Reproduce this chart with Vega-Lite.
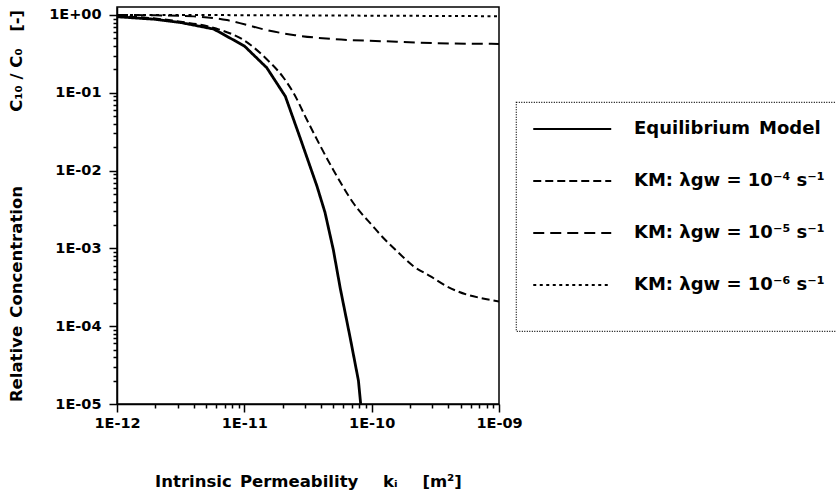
{
  "$schema": "https://vega.github.io/schema/vega-lite/v6.json",
  "width": 382,
  "height": 397,
  "autosize": {"type": "none"},
  "padding": {"left": 117, "top": 7, "right": 337, "bottom": 97},
  "background": "white",
  "config": {
    "view": {"stroke": "black", "strokeWidth": 1.5},
    "axis": {
      "domainColor": "black", "domainWidth": 1.5,
      "tickColor": "black", "tickWidth": 1.5,
      "labelFont": "DejaVu Sans", "labelFontSize": 14.5, "labelFontWeight": "bold", "labelColor": "black",
      "titleFont": "DejaVu Sans", "titleFontSize": 16.5, "titleFontWeight": "bold", "titleColor": "black",
      "grid": false, "labelOverlap": false, "labelFlush": false, "labelBound": false
    }
  },
  "data": {
    "values": [
      {"k": 1e-12, "c": 0.95, "series": "Equilibrium\u2002Model"},
      {"k": 2e-12, "c": 0.88, "series": "Equilibrium\u2002Model"},
      {"k": 3.16e-12, "c": 0.80, "series": "Equilibrium\u2002Model"},
      {"k": 5.75e-12, "c": 0.66, "series": "Equilibrium\u2002Model"},
      {"k": 1e-11, "c": 0.40, "series": "Equilibrium\u2002Model"},
      {"k": 1.5e-11, "c": 0.21, "series": "Equilibrium\u2002Model"},
      {"k": 2.1e-11, "c": 0.09, "series": "Equilibrium\u2002Model"},
      {"k": 2.75e-11, "c": 0.026, "series": "Equilibrium\u2002Model"},
      {"k": 3.72e-11, "c": 0.0063, "series": "Equilibrium\u2002Model"},
      {"k": 4.3e-11, "c": 0.0029, "series": "Equilibrium\u2002Model"},
      {"k": 5.0e-11, "c": 0.00096, "series": "Equilibrium\u2002Model"},
      {"k": 5.66e-11, "c": 0.00031, "series": "Equilibrium\u2002Model"},
      {"k": 6.78e-11, "c": 0.000071, "series": "Equilibrium\u2002Model"},
      {"k": 7.87e-11, "c": 0.00002, "series": "Equilibrium\u2002Model"},
      {"k": 8.2e-11, "c": 0.00001, "series": "Equilibrium\u2002Model"},

      {"k": 1e-12, "c": 0.97, "series": "KM: λgw = 10⁻⁴ s⁻¹"},
      {"k": 2e-12, "c": 0.90, "series": "KM: λgw = 10⁻⁴ s⁻¹"},
      {"k": 3.16e-12, "c": 0.82, "series": "KM: λgw = 10⁻⁴ s⁻¹"},
      {"k": 6e-12, "c": 0.67, "series": "KM: λgw = 10⁻⁴ s⁻¹"},
      {"k": 1e-11, "c": 0.47, "series": "KM: λgw = 10⁻⁴ s⁻¹"},
      {"k": 1.5e-11, "c": 0.27, "series": "KM: λgw = 10⁻⁴ s⁻¹"},
      {"k": 2.04e-11, "c": 0.155, "series": "KM: λgw = 10⁻⁴ s⁻¹"},
      {"k": 2.43e-11, "c": 0.10, "series": "KM: λgw = 10⁻⁴ s⁻¹"},
      {"k": 3.1e-11, "c": 0.045, "series": "KM: λgw = 10⁻⁴ s⁻¹"},
      {"k": 5.0e-11, "c": 0.0102, "series": "KM: λgw = 10⁻⁴ s⁻¹"},
      {"k": 7.2e-11, "c": 0.0038, "series": "KM: λgw = 10⁻⁴ s⁻¹"},
      {"k": 1.03e-10, "c": 0.0019, "series": "KM: λgw = 10⁻⁴ s⁻¹"},
      {"k": 1.17e-10, "c": 0.0015, "series": "KM: λgw = 10⁻⁴ s⁻¹"},
      {"k": 1.58e-10, "c": 0.00092, "series": "KM: λgw = 10⁻⁴ s⁻¹"},
      {"k": 2.13e-10, "c": 0.00059, "series": "KM: λgw = 10⁻⁴ s⁻¹"},
      {"k": 2.88e-10, "c": 0.00044, "series": "KM: λgw = 10⁻⁴ s⁻¹"},
      {"k": 3.89e-10, "c": 0.000325, "series": "KM: λgw = 10⁻⁴ s⁻¹"},
      {"k": 5.58e-10, "c": 0.000255, "series": "KM: λgw = 10⁻⁴ s⁻¹"},
      {"k": 7.11e-10, "c": 0.000231, "series": "KM: λgw = 10⁻⁴ s⁻¹"},
      {"k": 1e-9, "c": 0.000208, "series": "KM: λgw = 10⁻⁴ s⁻¹"},

      {"k": 1e-12, "c": 1.0, "series": "KM: λgw = 10⁻⁵ s⁻¹"},
      {"k": 2e-12, "c": 0.99, "series": "KM: λgw = 10⁻⁵ s⁻¹"},
      {"k": 4e-12, "c": 0.96, "series": "KM: λgw = 10⁻⁵ s⁻¹"},
      {"k": 7.3e-12, "c": 0.86, "series": "KM: λgw = 10⁻⁵ s⁻¹"},
      {"k": 1e-11, "c": 0.76, "series": "KM: λgw = 10⁻⁵ s⁻¹"},
      {"k": 1.5e-11, "c": 0.64, "series": "KM: λgw = 10⁻⁵ s⁻¹"},
      {"k": 2.5e-11, "c": 0.55, "series": "KM: λgw = 10⁻⁵ s⁻¹"},
      {"k": 5e-11, "c": 0.49, "series": "KM: λgw = 10⁻⁵ s⁻¹"},
      {"k": 1.24e-10, "c": 0.46, "series": "KM: λgw = 10⁻⁵ s⁻¹"},
      {"k": 3.05e-10, "c": 0.435, "series": "KM: λgw = 10⁻⁵ s⁻¹"},
      {"k": 1e-9, "c": 0.425, "series": "KM: λgw = 10⁻⁵ s⁻¹"},

      {"k": 1e-12, "c": 1.0, "series": "KM: λgw = 10⁻⁶ s⁻¹"},
      {"k": 1e-11, "c": 0.995, "series": "KM: λgw = 10⁻⁶ s⁻¹"},
      {"k": 1e-10, "c": 0.98, "series": "KM: λgw = 10⁻⁶ s⁻¹"},
      {"k": 1e-9, "c": 0.965, "series": "KM: λgw = 10⁻⁶ s⁻¹"}
    ]
  },
  "encoding": {
    "strokeDash": {
      "field": "series", "type": "nominal",
      "scale": {
        "domain": ["Equilibrium\u2002Model", "KM: λgw = 10⁻⁴ s⁻¹", "KM: λgw = 10⁻⁵ s⁻¹", "KM: λgw = 10⁻⁶ s⁻¹"],
        "range": [[1, 0], [8, 4], [11, 6], [3, 3.5]]
      },
      "legend": {
        "orient": "none", "legendX": 399, "legendY": 95,
        "title": " ", "titleOrient": "bottom", "titleFontSize": 8, "titlePadding": 13,
        "padding": 16,
        "strokeColor": "black",
        "symbolType": "M-1,0H7", "symbolSize": 380, "symbolStrokeWidth": 2,
        "symbolStrokeColor": "black", "symbolFillColor": "transparent",
        "labelFont": "DejaVu Sans", "labelFontSize": 18, "labelFontWeight": "bold", "labelColor": "black",
        "labelOffset": 80, "labelLimit": 400,
        "rowPadding": 32,
        "encode": {"legend": {"update": {"strokeDash": {"value": [1, 1.5]}, "strokeWidth": {"value": 1.2}}}}
      }
    }
  },
  "layer": [
    {
      "transform": [{"filter": "indexof(datum.series, 'Equilibrium') == 0"}],
      "mark": {"type": "line", "color": "black", "strokeWidth": 2.8, "clip": true},
      "encoding": {
        "x": {
          "field": "k", "type": "quantitative",
          "scale": {"type": "log", "domain": [1e-12, 1e-9], "nice": false},
          "axis": {
            "orient": "bottom",
            "values": [1e-12, 1e-11, 1e-10, 1e-9],
            "labelExpr": "'1E' + (round(log(datum.value)/LN10) < 0 ? '-' : '+') + (abs(round(log(datum.value)/LN10)) < 10 ? '0' : '') + abs(round(log(datum.value)/LN10))",
            "tickSize": 8,
            "labelPadding": 4,
            "title": "Intrinsic\u2002Permeability\u2003\u2002kᵢ\u2003\u2002[m²]",
            "titlePadding": 44
          }
        },
        "y": {
          "field": "c", "type": "quantitative",
          "scale": {"type": "log", "domain": [0.00001, 1.267], "nice": false},
          "axis": {
            "orient": "left",
            "values": [0.00001, 0.0001, 0.001, 0.01, 0.1, 1],
            "labelExpr": "'1E' + (round(log(datum.value)/LN10) < 0 ? '-' : '+') + (abs(round(log(datum.value)/LN10)) < 10 ? '0' : '') + abs(round(log(datum.value)/LN10))",
            "tickSize": 8,
            "labelPadding": 8,
            "title": "Relative\u2002Concentration\u2003\u2003\u2003\u2003\u2002C₁₀ / C₀\u2003[-]",
            "titlePadding": 24
          }
        }
      }
    },
    {
      "transform": [{"filter": "indexof(datum.series, 'Equilibrium') != 0"}],
      "mark": {"type": "line", "color": "black", "strokeWidth": 2, "interpolate": "monotone", "clip": true},
      "encoding": {
        "x": {
          "field": "k", "type": "quantitative",
          "scale": {"type": "log", "domain": [1e-12, 1e-9], "nice": false},
          "axis": {
            "orient": "bottom",
            "values": [2e-12, 3e-12, 4e-12, 5e-12, 6e-12, 7e-12, 8e-12, 9e-12,
                       2e-11, 3e-11, 4e-11, 5e-11, 6e-11, 7e-11, 8e-11, 9e-11,
                       2e-10, 3e-10, 4e-10, 5e-10, 6e-10, 7e-10, 8e-10, 9e-10],
            "labels": false, "domain": false, "title": null, "tickSize": 4
          }
        },
        "y": {
          "field": "c", "type": "quantitative",
          "scale": {"type": "log", "domain": [0.00001, 1.267], "nice": false},
          "axis": {
            "orient": "left",
            "values": [0.00002, 0.00003, 0.00004, 0.00005, 0.00006, 0.00007, 0.00008, 0.00009,
                       0.0002, 0.0003, 0.0004, 0.0005, 0.0006, 0.0007, 0.0008, 0.0009,
                       0.002, 0.003, 0.004, 0.005, 0.006, 0.007, 0.008, 0.009,
                       0.02, 0.03, 0.04, 0.05, 0.06, 0.07, 0.08, 0.09,
                       0.2, 0.3, 0.4, 0.5, 0.6, 0.7, 0.8, 0.9],
            "labels": false, "domain": false, "title": null, "tickSize": 4
          }
        }
      }
    }
  ],
  "resolve": {"axis": {"x": "independent", "y": "independent"}}
}
